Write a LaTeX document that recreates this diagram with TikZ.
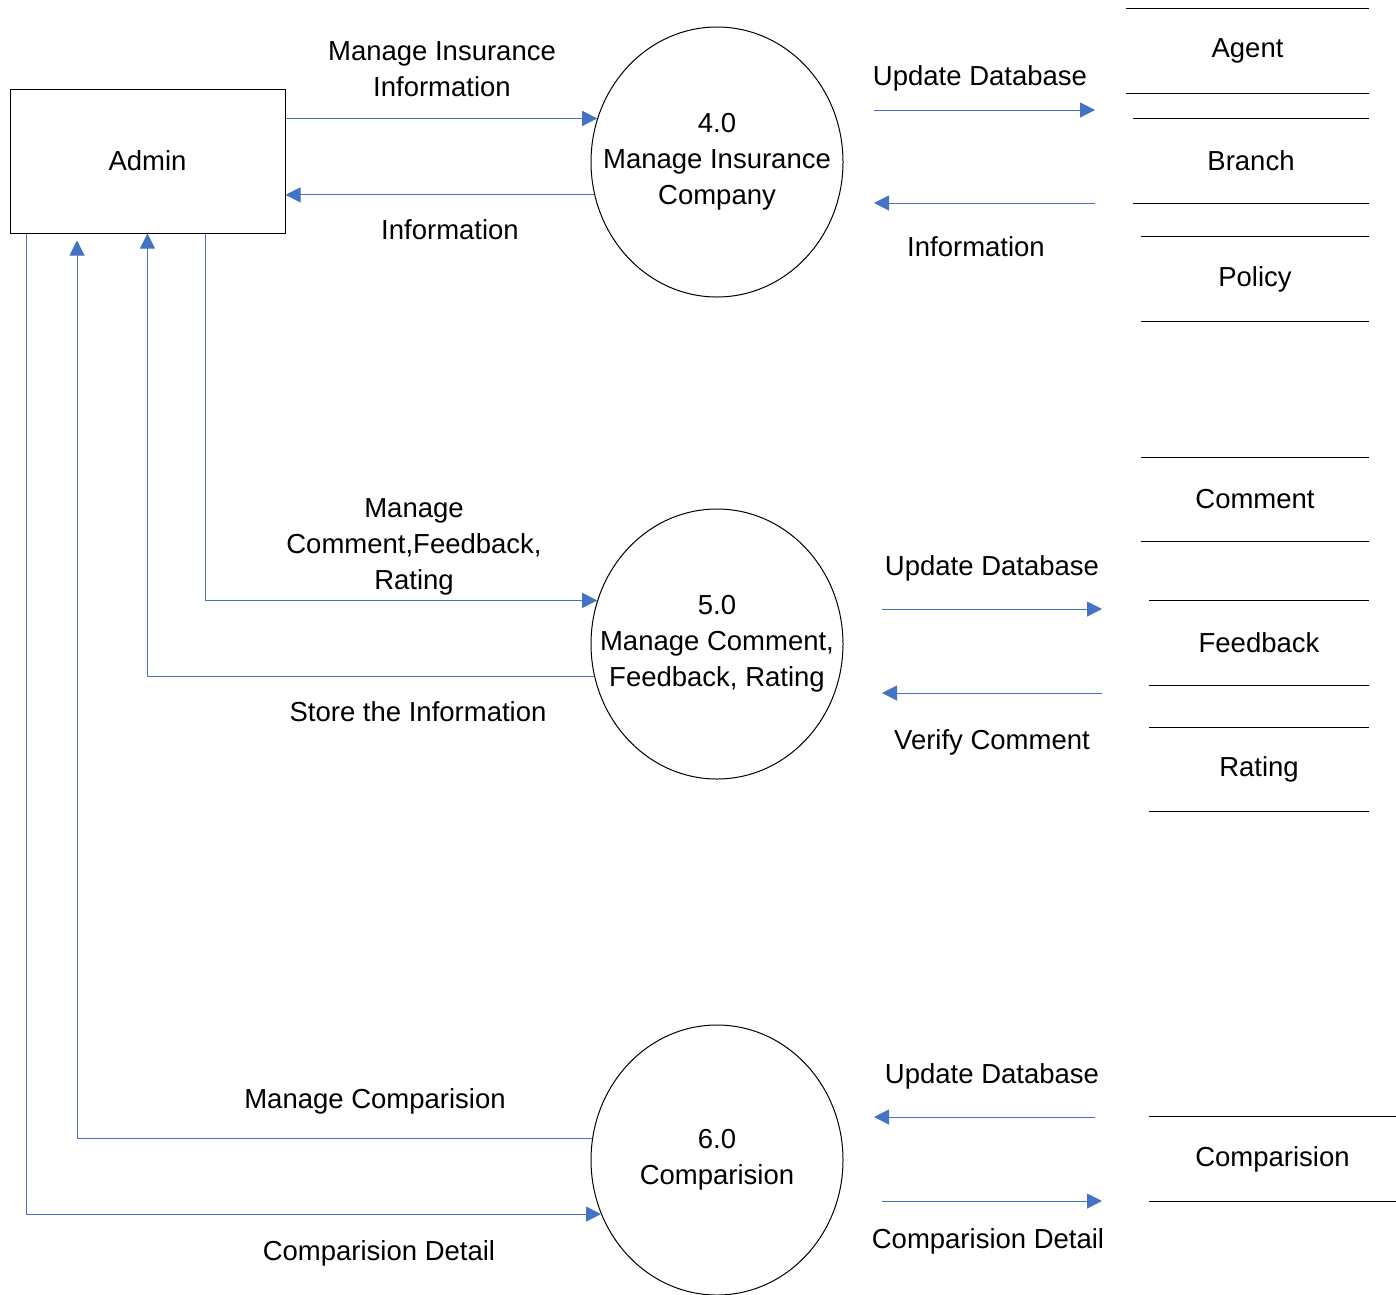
\documentclass[tikz,border=0pt]{standalone}
\usepackage{fontspec}
\setmainfont{Liberation Sans}
\usetikzlibrary{arrows.meta,shapes.geometric}
\definecolor{flowBlue}{HTML}{4472C4}
\tikzstyle{entity}=[shape = rectangle, draw, minimum width = 275pt, minimum height = 144pt, line width = 1pt]
\tikzstyle{process}=[shape = ellipse, draw, minimum width = 252pt, minimum height = 270pt, inner xsep = -45pt, inner ysep = 0pt, align = center, line width = 1pt]
\tikzstyle{store}=[shape = rectangle, minimum height = 84pt, inner sep = 0pt]
\tikzstyle{storeLine}=[draw, line width = 1.2pt]
\tikzstyle{flow}=[draw = flowBlue, line width = 1pt, -{Triangle[length = 15pt, width = 15pt]}]

\begin{document}
\begin{tikzpicture}[x = 1pt, y = -1pt, font = \fontsize{27.5}{36}\selectfont]
\useasboundingbox (0,0) rectangle (1396,1294);
\node[entity] (v0) at (147.5,161) {Admin};
\node[process] (v1) at (717,162) {4.0\\Manage Insurance\\Company};
\node[process] (v2) at (717,644) {5.0\\Manage Comment,\\Feedback, Rating};
\node[process] (v3) at (717,1160) {6.0\\Comparision};
\node[store, minimum width = 243pt] (s1) at (1247.5,51) {Agent};
\node[store, minimum width = 236pt] (s2) at (1251,161) {Branch};
\node[store, minimum width = 228pt] (s3) at (1255,279) {Policy};
\node[store, minimum width = 228pt] (s4) at (1255,499.5) {Comment};
\node[store, minimum width = 220pt] (s5) at (1259,643) {Feedback};
\node[store, minimum width = 220pt] (s6) at (1259,769.5) {Rating};
\node[store, minimum width = 247pt] (s7) at (1272.5,1159) {Comparision};
\foreach \s in {s1,s2,s3,s4,s5,s6,s7}
  {\draw[storeLine] (\s.north west) -- (\s.north east);
   \draw[storeLine] (\s.south west) -- (\s.south east);}
\node[align = center] (l1) at (442,69) {Manage Insurance\\Information};
\node (l2) at (450,230) {Information};
\node[align = center] (l3) at (414,547) {Manage\\Comment,Feedback,\\Rating};
\node (l4) at (418,712) {Store the Information};
\node (l5) at (375,1101) {Manage Comparision};
\node (l6) at (379,1253) {Comparision Detail};
\node (l7) at (980,78) {Update Database};
\node (l8) at (976,247) {Information};
\node (l9) at (992,568) {Update Database};
\node (l10) at (992,742) {Verify Comment};
\node (l11) at (992,1076) {Update Database};
\node (l12) at (988,1241) {Comparision Detail};
\coordinate (r1) at (874,110);
\coordinate (r2) at (1095,110);
\coordinate (r3) at (1095,203);
\coordinate (r4) at (874,203);
\coordinate (r5) at (882,609);
\coordinate (r6) at (1102,609);
\coordinate (r7) at (1102,693);
\coordinate (r8) at (882,693);
\coordinate (r9) at (1095,1117);
\coordinate (r10) at (874,1117);
\coordinate (r11) at (882,1201);
\coordinate (r12) at (1102,1201);
\draw[flow] (v0.east |- v1.160) -- (v1.160);
\draw[flow] (v1.195) -- (v0.east |- v1.195);
\draw[flow] ([xshift = 58pt]v0.south) |- (v2.160);
\draw[flow] (v2.195) -| (v0.south);
\draw[flow] (v3.170) -| ([xshift = -70.5pt, yshift = -7pt]v0.south);
\draw[flow] ([xshift = -121.5pt]v0.south) |- (v3.205);
\draw[flow] (r1) -- (r2);
\draw[flow] (r3) -- (r4);
\draw[flow] (r5) -- (r6);
\draw[flow] (r7) -- (r8);
\draw[flow] (r9) -- (r10);
\draw[flow] (r11) -- (r12);
\end{tikzpicture}
\end{document}
